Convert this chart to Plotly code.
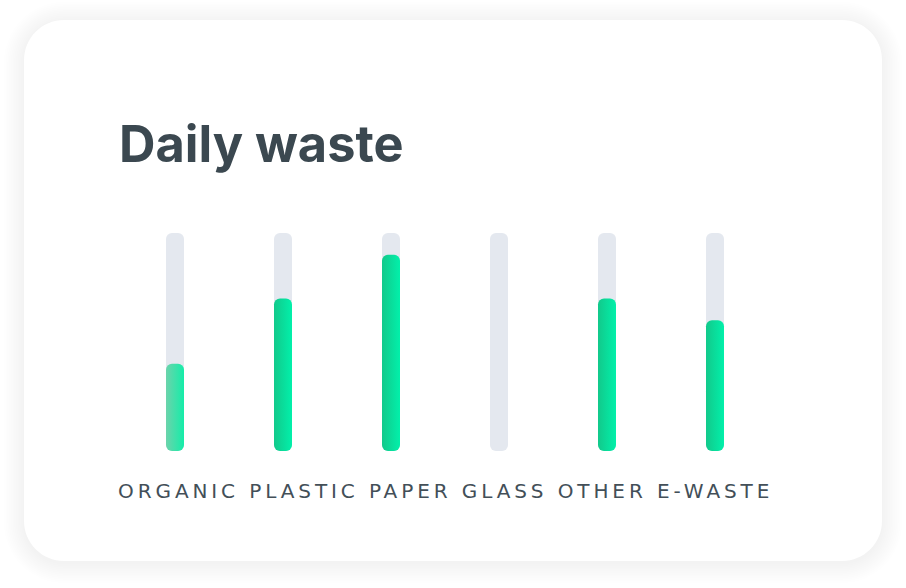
import plotly.graph_objects as go

categories = ["ORGANIC", "PLASTIC", "PAPER", "GLASS", "OTHER", "E-WASTE"]
values = [40, 70, 90, 0, 70, 60]
track_max = 100
title_text = "Daily waste"

W, H = 906, 588
ML, MR, MT, MB = 121, 137, 233, 137
PW, PH = W - ML - MR, H - MT - MB


def px(x):
    return (x - ML) / PW


def py(y):
    return (H - MB - y) / PH


def rrect(x0, y0, x1, y1, r):
    k = 0.5523 * r
    pts = [
        f"M{px(x0 + r)},{py(y0)}",
        f"L{px(x1 - r)},{py(y0)}",
        f"C{px(x1 - r + k)},{py(y0)} {px(x1)},{py(y0 + r - k)} {px(x1)},{py(y0 + r)}",
        f"L{px(x1)},{py(y1 - r)}",
        f"C{px(x1)},{py(y1 - r + k)} {px(x1 - r + k)},{py(y1)} {px(x1 - r)},{py(y1)}",
        f"L{px(x0 + r)},{py(y1)}",
        f"C{px(x0 + r - k)},{py(y1)} {px(x0)},{py(y1 - r + k)} {px(x0)},{py(y1 - r)}",
        f"L{px(x0)},{py(y0 + r)}",
        f"C{px(x0)},{py(y0 + r - k)} {px(x0 + r - k)},{py(y0)} {px(x0 + r)},{py(y0)}",
        "Z",
    ]
    return " ".join(pts)


shapes = []
# soft shadow layers
for j in range(12, 0, -1):
    d = j * 1.7
    shapes.append(dict(
        type="path", xref="paper", yref="paper", layer="below",
        path=rrect(24 - d, 20 - d + 2, 882 + d, 561 + d + 2, 40 + d),
        fillcolor="rgba(0,0,0,0.0045)", line=dict(width=0),
    ))
shapes.append(dict(
    type="path", xref="paper", yref="paper", layer="below",
    path=rrect(24, 20, 882, 561, 40),
    fillcolor="#ffffff", line=dict(width=0),
))

bar_w = 18 / (PW / len(categories))
half_track = [track_max / 2] * len(categories)
half_vals = [v / 2 for v in values]
green_colors = ["#3ddfaa" if i == 0 else "#08e09c" for i in range(len(categories))]
track_color = "#e4e8ef"
RAD = 6

fig = go.Figure()
# track: upper half (rounded top), lower half (rounded bottom), middle filler
fig.add_bar(x=categories, y=half_track, base=half_track, width=bar_w,
            marker=dict(color=track_color, line=dict(width=0), cornerradius=RAD), hoverinfo="skip")
fig.add_bar(x=categories, y=[-h for h in half_track], base=half_track, width=bar_w,
            marker=dict(color=track_color, line=dict(width=0), cornerradius=RAD), hoverinfo="skip")
fig.add_bar(x=categories, y=half_track, base=[h / 2 for h in half_track], width=bar_w,
            marker=dict(color=track_color, line=dict(width=0), cornerradius=0), hoverinfo="skip")
# values: same construction
fig.add_bar(x=categories, y=half_vals, base=half_vals, width=bar_w,
            marker=dict(color=green_colors, line=dict(width=0), cornerradius=RAD), hoverinfo="skip")
fig.add_bar(x=categories, y=[-h for h in half_vals], base=half_vals, width=bar_w,
            marker=dict(color=green_colors, line=dict(width=0), cornerradius=RAD), hoverinfo="skip")
fig.add_bar(x=categories, y=half_vals, base=[h / 2 for h in half_vals], width=bar_w,
            marker=dict(color=green_colors, line=dict(width=0), cornerradius=0), hoverinfo="skip")

fig.update_layout(
    width=W, height=H,
    margin=dict(l=ML, r=MR, t=MT, b=MB),
    paper_bgcolor="#ffffff", plot_bgcolor="rgba(0,0,0,0)",
    barmode="overlay", showlegend=False,
    shapes=shapes,
    xaxis=dict(range=[-0.5, len(categories) - 0.5], showgrid=False, zeroline=False,
               showline=False, ticks="", showticklabels=False),
    yaxis=dict(range=[0, track_max], visible=False, fixedrange=True),
    annotations=[
        dict(
            text=f"<b>{title_text}</b>", xref="paper", yref="paper",
            x=px(117), y=py(143), xanchor="left", yanchor="middle", showarrow=False,
            font=dict(family="Inter", size=50.5, color="#3b4850"),
        ),
        dict(
            text=" ".join(categories), xref="paper", yref="paper",
            x=px(445.5), y=py(491), xanchor="center", yanchor="middle", showarrow=False,
            font=dict(family="DejaVu Sans", size=20, color="#434f58"),
        ),
    ],
)

post = """
var gd = document.getElementById('{plot_id}');
function styl(){
  var ns = 'http://www.w3.org/2000/svg';
  var svg = gd.querySelector('svg.main-svg');
  if (!svg) return;
  if (!document.getElementById('gradG')) {
    var defs = document.createElementNS(ns, 'defs');
    function mk(id, c0, c1){
      var g = document.createElementNS(ns, 'linearGradient');
      g.setAttribute('id', id); g.setAttribute('x1','0'); g.setAttribute('y1','0');
      g.setAttribute('x2','1'); g.setAttribute('y2','0');
      var s0 = document.createElementNS(ns, 'stop'); s0.setAttribute('offset','0'); s0.setAttribute('stop-color', c0);
      var s1 = document.createElementNS(ns, 'stop'); s1.setAttribute('offset','1'); s1.setAttribute('stop-color', c1);
      g.appendChild(s0); g.appendChild(s1); defs.appendChild(g);
    }
    mk('gradG', '#12c98b', '#02f0aa');
    mk('gradO', '#6cd3ab', '#14eda9');
    svg.insertBefore(defs, svg.firstChild);
  }
  var ann = gd.querySelectorAll('.annotation-text');
  if (ann.length > 1) { ann[1].style.letterSpacing = '3.9px'; }
  var tr = gd.querySelectorAll('.barlayer .trace');
  for (var k = 3; k < tr.length; k++) {
    var pts = tr[k].querySelectorAll('.point path');
    pts.forEach(function(p, i){ p.style.fill = (i === 0) ? 'url(#gradO)' : 'url(#gradG)'; });
  }
}
styl();
setTimeout(styl, 0);
if (gd.on) gd.on('plotly_afterplot', styl);
"""

fig.write_html("out.html", post_script=post, config=dict(displayModeBar=False, staticPlot=True))
